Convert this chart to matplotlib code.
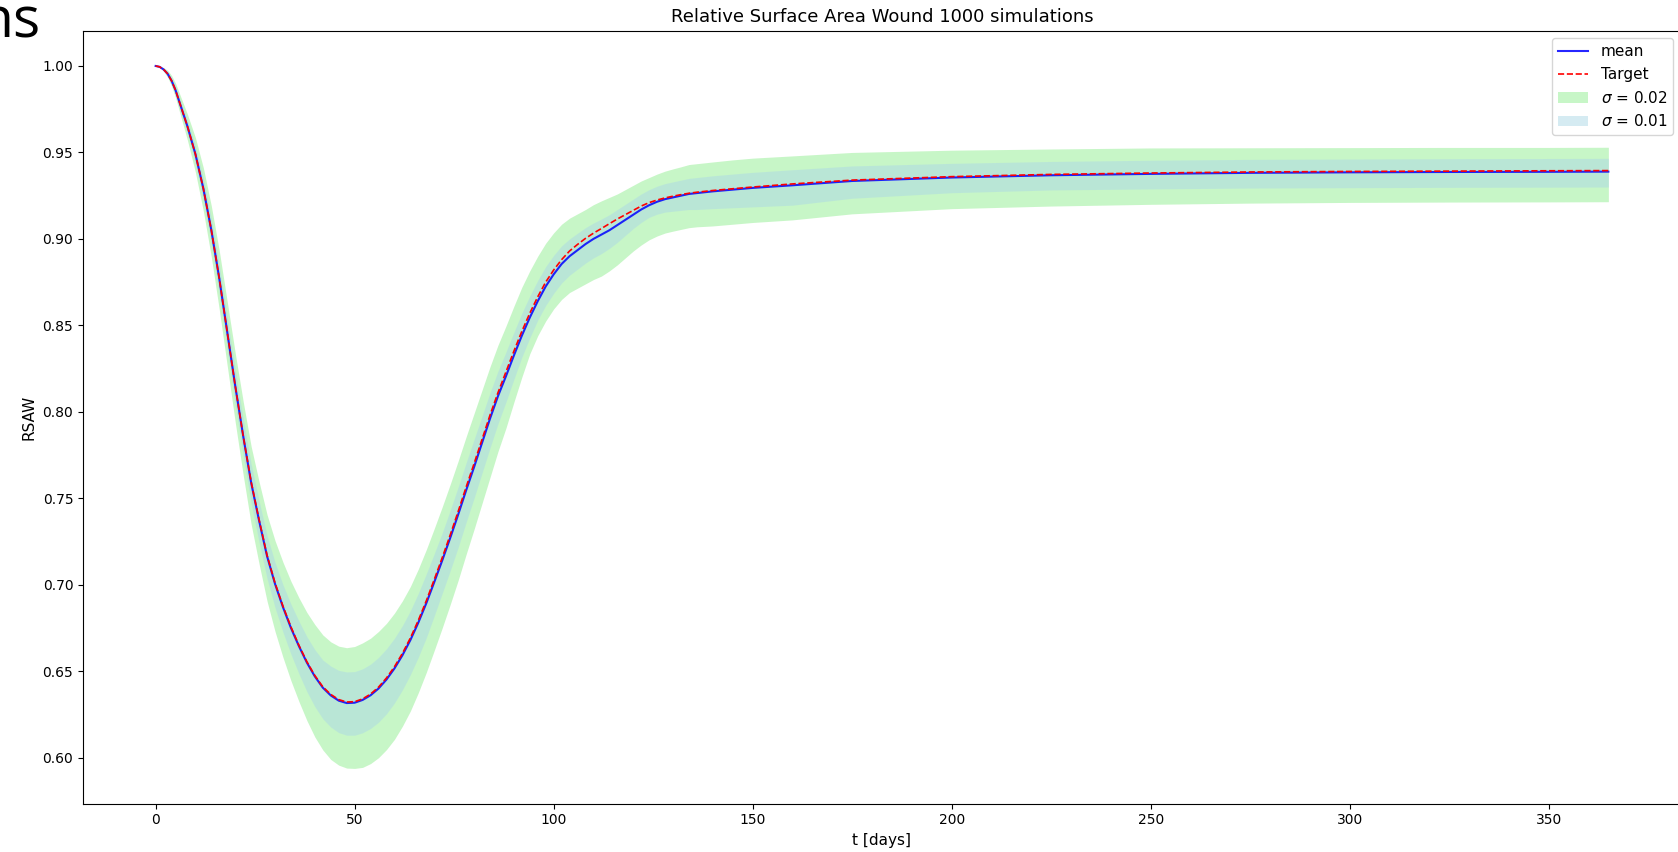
import numpy as np
import matplotlib
matplotlib.use("Agg")
import matplotlib.pyplot as plt

# ---- data ----
t_days = [0, 1, 2, 3, 4, 5, 6, 8, 10, 12, 14, 16, 18, 20, 22, 24, 26, 28, 30, 32, 34, 36, 38,
          40, 42, 44, 46, 48, 50, 52, 54, 56, 58, 60, 62, 64, 66, 68, 70, 72, 74, 76, 78,
          80, 82, 84, 86, 88, 90, 92, 94, 96, 98, 100, 102, 104, 106, 108, 110, 112, 114,
          116, 118, 120, 122, 124, 126, 128, 130, 132, 134, 136, 140, 145, 150, 160, 175,
          200, 225, 250, 275, 300, 325, 350, 365]

mean_rsaw = [1.000, 0.9995, 0.998, 0.9955, 0.9915, 0.986, 0.979, 0.965, 0.949, 0.929, 0.905,
             0.877, 0.846, 0.815, 0.786, 0.759, 0.737, 0.7165, 0.7005, 0.687, 0.675, 0.6645,
             0.655, 0.647, 0.6405, 0.636, 0.633, 0.6316, 0.6318, 0.6334, 0.6361, 0.6400,
             0.6452, 0.6516, 0.6592, 0.6680, 0.6781, 0.6893, 0.7015, 0.714, 0.727, 0.7405,
             0.7545, 0.768, 0.782, 0.796, 0.809, 0.8205, 0.8325, 0.844, 0.8545, 0.864,
             0.8725, 0.8795, 0.8855, 0.890, 0.8935, 0.897, 0.900, 0.9025, 0.905, 0.908,
             0.911, 0.914, 0.917, 0.9195, 0.9215, 0.923, 0.924, 0.925, 0.926, 0.9265,
             0.9275, 0.9285, 0.9295, 0.931, 0.9335, 0.9355, 0.9368, 0.9376, 0.9382, 0.9385,
             0.9387, 0.9388, 0.9389]

target_rsaw = [1.000, 0.9995, 0.998, 0.9955, 0.9915, 0.986, 0.979, 0.965, 0.949, 0.929,
               0.905, 0.877, 0.846, 0.815, 0.786, 0.7595, 0.7375, 0.717, 0.701, 0.6876,
               0.6756, 0.665, 0.6555, 0.6475, 0.641, 0.6366, 0.6336, 0.6322, 0.6324, 0.634,
               0.6368, 0.6408, 0.6461, 0.6526, 0.6603, 0.6692, 0.6794, 0.6907, 0.703, 0.7156,
               0.7287, 0.7423, 0.7564, 0.770, 0.784, 0.798, 0.811, 0.823, 0.835, 0.8465,
               0.857, 0.8665, 0.875, 0.882, 0.888, 0.893, 0.8968, 0.9003, 0.9033, 0.906,
               0.9088, 0.9115, 0.914, 0.9165, 0.919, 0.921, 0.9225, 0.9237, 0.9247, 0.9256,
               0.9264, 0.927, 0.928, 0.929, 0.930, 0.9318, 0.934, 0.936, 0.9373, 0.9381,
               0.9387, 0.939, 0.9392, 0.9394, 0.9395]

# band extents above / below the mean
green_above = [0.000, 0.0004, 0.001, 0.002, 0.003, 0.004, 0.005, 0.007, 0.0095, 0.012,
               0.014, 0.016, 0.0175, 0.019, 0.020, 0.021, 0.0225, 0.024, 0.025, 0.026,
               0.027, 0.028, 0.029, 0.030, 0.0305, 0.031, 0.0315, 0.032, 0.0325, 0.033,
               0.033, 0.033, 0.0325, 0.032, 0.0315, 0.031, 0.031, 0.031, 0.031, 0.031,
               0.031, 0.031, 0.031, 0.031, 0.0305, 0.030, 0.0295, 0.029, 0.0285, 0.028,
               0.027, 0.026, 0.025, 0.024, 0.023, 0.022, 0.021, 0.020, 0.0198, 0.0195,
               0.019, 0.018, 0.0175, 0.017, 0.0165, 0.016, 0.016, 0.0162, 0.0165, 0.0167,
               0.017, 0.017, 0.017, 0.0172, 0.0172, 0.017, 0.0165, 0.0158, 0.0152, 0.015,
               0.0145, 0.0143, 0.0142, 0.0141, 0.0141]
green_below = [0.000, 0.0004, 0.001, 0.002, 0.003, 0.0043, 0.0055, 0.008, 0.0105, 0.013,
               0.0155, 0.018, 0.0195, 0.021, 0.0225, 0.024, 0.025, 0.026, 0.0275, 0.029,
               0.0305, 0.032, 0.0335, 0.035, 0.036, 0.037, 0.0373, 0.0376, 0.038, 0.039,
               0.0395, 0.040, 0.0405, 0.041, 0.041, 0.041, 0.0405, 0.040, 0.0395, 0.039,
               0.0385, 0.038, 0.037, 0.036, 0.035, 0.034, 0.032, 0.030, 0.027, 0.024,
               0.021, 0.020, 0.020, 0.020, 0.0205, 0.021, 0.022, 0.023, 0.0235, 0.024,
               0.0235, 0.023, 0.022, 0.021, 0.0205, 0.020, 0.0198, 0.0196, 0.0195, 0.0195,
               0.0195, 0.0195, 0.020, 0.020, 0.020, 0.020, 0.019, 0.018, 0.0178, 0.0176,
               0.0175, 0.0174, 0.0174, 0.0174, 0.0174]
blue_above = [0.000, 0.0002, 0.0005, 0.001, 0.0015, 0.002, 0.0025, 0.0035, 0.0048, 0.006,
              0.007, 0.008, 0.0088, 0.0095, 0.010, 0.011, 0.0115, 0.012, 0.0125, 0.013,
              0.0138, 0.0145, 0.015, 0.0155, 0.016, 0.017, 0.0175, 0.018, 0.018, 0.018,
              0.018, 0.018, 0.0178, 0.0175, 0.0172, 0.017, 0.017, 0.017, 0.0165, 0.016,
              0.016, 0.016, 0.016, 0.016, 0.0155, 0.015, 0.0145, 0.014, 0.0135, 0.013,
              0.0125, 0.012, 0.0115, 0.011, 0.0105, 0.010, 0.0098, 0.0095, 0.0092, 0.009,
              0.009, 0.009, 0.009, 0.009, 0.009, 0.009, 0.009, 0.009, 0.009, 0.009,
              0.009, 0.009, 0.009, 0.009, 0.009, 0.009, 0.0087, 0.0082, 0.008, 0.0079,
              0.0078, 0.0077, 0.0077, 0.0077, 0.0077]
blue_below = [0.000, 0.0002, 0.0005, 0.001, 0.0015, 0.0022, 0.003, 0.004, 0.0053, 0.0065,
              0.0078, 0.009, 0.0098, 0.0105, 0.0112, 0.012, 0.0125, 0.013, 0.0138, 0.0145,
              0.0152, 0.016, 0.0168, 0.0175, 0.018, 0.0183, 0.0185, 0.0186, 0.0188, 0.019,
              0.0192, 0.0195, 0.0198, 0.020, 0.020, 0.020, 0.020, 0.020, 0.0195, 0.019,
              0.019, 0.019, 0.0185, 0.018, 0.0175, 0.017, 0.016, 0.015, 0.0138, 0.0125,
              0.0118, 0.011, 0.011, 0.011, 0.011, 0.011, 0.011, 0.011, 0.011, 0.011,
              0.0105, 0.010, 0.009, 0.008, 0.0075, 0.007, 0.0072, 0.0075, 0.008, 0.0085,
              0.009, 0.0095, 0.010, 0.0105, 0.011, 0.0115, 0.010, 0.0088, 0.0085, 0.0087,
              0.0088, 0.0089, 0.0089, 0.0089, 0.0089]

xticks = [0, 50, 100, 150, 200, 250, 300, 350]
yticks = [0.60, 0.65, 0.70, 0.75, 0.80, 0.85, 0.90, 0.95, 1.00]

t = np.array(t_days, dtype=float)
m = np.array(mean_rsaw)
tg = np.array(target_rsaw)

fig = plt.figure(figsize=(16.78, 8.52), dpi=100)
ax = fig.add_axes([83 / 1678, 48.3 / 852, 1598 / 1678, 773 / 852])

ax.plot(t, m, color="blue", lw=1.5, alpha=0.85, label="mean")
ax.plot(t, tg, color="red", lw=1.2, ls="--", label="Target")
ax.fill_between(t, m - np.array(green_below), m + np.array(green_above),
                color="lightgreen", alpha=0.5, lw=0, label=r"$\sigma$ = 0.02")
ax.fill_between(t, m - np.array(blue_below), m + np.array(blue_above),
                color="lightblue", alpha=0.5, lw=0, label=r"$\sigma$ = 0.01")

ax.set_xlim(-18.25, 383.25)
ax.set_ylim(0.5734, 1.0204)
ax.set_xticks(xticks)
ax.set_yticks(yticks)
ax.set_yticklabels([f"{v:.2f}" for v in yticks])
ax.set_title("Relative Surface Area Wound 1000 simulations", fontsize=13)
ax.set_xlabel("t [days]", fontsize=11)
ax.set_ylabel("RSAW", fontsize=11)
ax.legend(loc="upper right", fontsize=11)

fig.text(40 / 1678, 1 - 38 / 852, "ns", ha="right", va="baseline",
         fontsize=41, family="Open Sans")

fig.savefig("out.png", dpi=100)
